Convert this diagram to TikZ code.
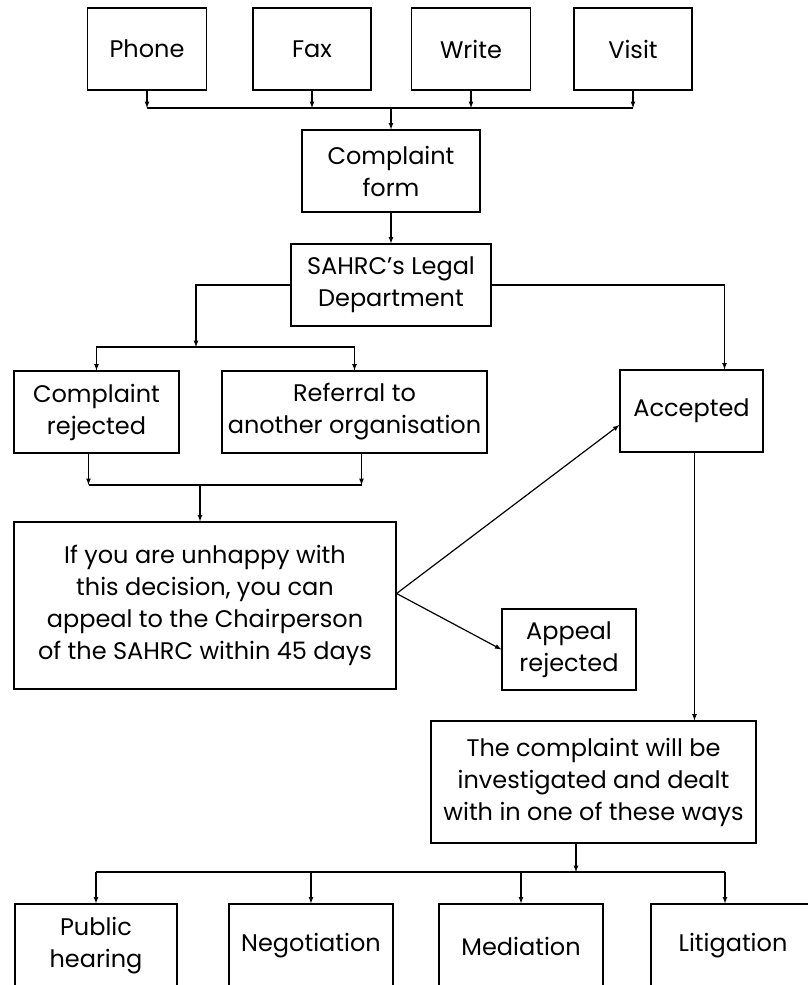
\documentclass[tikz,border=0pt]{standalone}
\usepackage{fontspec}
\setmainfont{Poppins}
\tikzset{
  box/.style={draw, line width=1.2pt, align=center, inner sep=0pt,
    font=\fontsize{24}{32}\selectfont},
  line/.style={line width=1.2pt},
  link/.style={line width=1.2pt, -latex},
}
\begin{document}
\begin{tikzpicture}[x=1pt,y=-1pt]
    \useasboundingbox (0,0) rectangle (807,985);
    % ways in
    \node[box, minimum width=119, minimum height=82] (phone) at (147,49) {Phone};
    \node[box, minimum width=118, minimum height=82] (fax) at (312,49) {Fax};
    \node[box, minimum width=119, minimum height=82] (write) at (471,49) {Write};
    \node[box, minimum width=118, minimum height=82] (visit) at (633,49) {Visit};
    \coordinate (inbus) at (391,108);
    \draw[link] (phone.south) -- (phone.south |- inbus);
    \draw[link] (fax.south) -- (fax.south |- inbus);
    \draw[link] (write.south) -- (write.south |- inbus);
    \draw[link] (visit.south) -- (visit.south |- inbus);
    \draw[line] (phone.south |- inbus) -- (visit.south |- inbus);
    %
    \node[box, minimum width=178, minimum height=82] (form) at (391,171) {Complaint\\form};
    \node[box, minimum width=200, minimum height=82] (legal) at (391,285) {SAHRC’s Legal\\Department};
    \draw[link] (inbus) -- (form.north);
    \draw[link] (form) -- (legal);
    %
    \node[box, minimum width=165, minimum height=82] (rejected) at (96.5,412) {Complaint\\rejected};
    \node[box, minimum width=265, minimum height=82] (referral) at (354.5,412) {Referral to\\another organisation};
    \node[box, minimum width=143, minimum height=82] (accepted) at (691.5,411) {Accepted};
    \coordinate (lsplit) at (196,347);
    \draw[link] (legal.west) -| (lsplit);
    \draw[link] (lsplit) -| (rejected.north);
    \draw[link] (lsplit) -| (referral.north);
    \draw[link] (legal.east) -| ([xshift=33pt]accepted.north);
    %
    \node[box, minimum width=382, minimum height=167] (appeal) at (205,605.5)
        {If you are unhappy with\\this decision, you can\\appeal to the Chairperson\\of the SAHRC within 45 days};
    \node[box, minimum width=134, minimum height=81] (apprej) at (569,649.5) {Appeal\\rejected};
    \coordinate (merge) at (200,485);
    \draw[link] ([xshift=-8pt]rejected.south) -- ([xshift=-8pt]rejected.south |- merge);
    \draw[link] ([xshift=7pt]referral.south) -- ([xshift=7pt]referral.south |- merge);
    \draw[line] ([xshift=-8pt]rejected.south |- merge) -- ([xshift=7pt]referral.south |- merge);
    \draw[link] (merge) -- (merge |- appeal.north);
    \coordinate (fork) at ([yshift=12pt]appeal.east);
    \draw[link] (fork) -- ([yshift=-14pt]accepted.west);
    \draw[link] (fork) -- (apprej.west);
    %
    \node[box, minimum width=325, minimum height=122] (ways) at (593.5,782)
        {The complaint will be\\investigated and dealt\\with in one of these ways};
    \draw[link] ([xshift=3pt]accepted.south) -- ([xshift=3pt]accepted.south |- ways.north);
    %
    \node[box, minimum width=162, minimum height=84] (public) at (96,946) {Public\\hearing};
    \node[box, minimum width=164, minimum height=84] (negotiation) at (311,946) {Negotiation};
    \node[box, minimum width=164, minimum height=84] (mediation) at (521,946) {Mediation};
    \node[box, minimum width=164, minimum height=84] (litigation) at (733,946) {Litigation};
    \coordinate (outbus) at (576,872);
    \draw[link] (outbus |- ways.south) -- (outbus);
    \draw[line] (public.north |- outbus) -- ([xshift=-8pt]litigation.north |- outbus);
    \draw[link] (public.north |- outbus) -- (public.north);
    \draw[link] (negotiation.north |- outbus) -- (negotiation.north);
    \draw[link] (mediation.north |- outbus) -- (mediation.north);
    \draw[link] ([xshift=-8pt]litigation.north |- outbus) -- ([xshift=-8pt]litigation.north);
\end{tikzpicture}
\end{document}
